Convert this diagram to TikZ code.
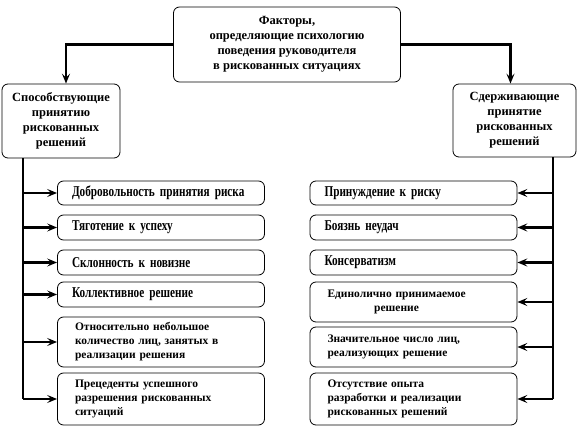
\documentclass[tikz,border=0pt]{standalone}
\usepackage{fontspec}
\setmainfont{Liberation Serif}
\newfontfamily\narrowfont{Liberation Serif}[FakeStretch=0.75,WordSpace=0.7]
\usetikzlibrary{arrows.meta}

\begin{document}
\begin{tikzpicture}[x=1pt,y=-1pt,
  box/.style={draw, rounded corners=6pt, line width=0.8pt, inner sep=0pt},
  head/.style={box, align=center, font=\bfseries\fontsize{12.5}{15}\selectfont},
  item/.style={box, align=left, text width=172pt, inner xsep=17.5pt,
    font=\bfseries\fontsize{11.5}{14}\selectfont},
  big/.style={text width=178pt, inner xsep=14.5pt,
    font=\narrowfont\bfseries\fontsize{15}{15}\selectfont},
  conn/.style={line width=2.6pt, -{Stealth[length=10pt,width=8pt,inset=4pt]}},
  trunk/.style={line width=2.6pt}]
\useasboundingbox (0,0) rectangle (579,427);
% Top and the two groups
\node[head, minimum width=227pt, minimum height=75pt] (top) at (287,44.5)
  {Факторы,\\определяющие психологию\\поведения руководителя\\в рискованных ситуациях};
\node[head, minimum width=118pt, minimum height=74pt] (lhead) at (61,121)
  {Способствующие\\принятию\\рискованных\\решений};
\node[head, minimum width=123pt, minimum height=73pt] (rhead) at (514.5,120.5)
  {Сдерживающие\\принятие\\рискованных\\решений};
\draw[conn] (top.west) -| ([xshift=5pt]lhead.north);
\draw[conn] (top.east) -| ([xshift=-4pt]rhead.north);
% Left column
\node[item, big, minimum height=24pt] (l1) at (161,193) {Добровольность принятия риска};
\node[item, big, minimum height=25pt] (l2) at (161,227.5) {Тяготение к успеху};
\node[item, big, minimum height=25pt] (l3) at (161,262.5) {Склонность к новизне};
\node[item, big, minimum height=25pt] (l4) at (161,294.5) {Коллективное решение};
\node[item, minimum height=50pt] (l5) at (161,342) {Относительно небольшое\\количество лиц, занятых в\\реализации решения};
\node[item, minimum height=52pt] (l6) at (161,399) {Прецеденты успешного\\разрешения рискованных\\ситуаций};
% Right column
\node[item, big, minimum height=24pt] (r1) at (413.5,193) {Принуждение к риску};
\node[item, big, minimum height=25pt] (r2) at (413.5,227.5) {Боязнь неудач};
\node[item, big, minimum height=25pt] (r3) at (413.5,262.5) {Консерватизм};
\node[item, minimum height=40pt] (r4) at (413.5,302)
  {\begin{tabular}{@{}c@{}}Единолично принимаемое\\решение\end{tabular}};
\node[item, minimum height=40pt] (r5) at (413.5,347) {Значительное число лиц,\\реализующих решение};
\node[item, minimum height=52pt] (r6) at (413.5,399) {Отсутствие опыта\\разработки и реализации\\рискованных решений};
% Trunks and arrows
\coordinate (ltrunk) at (23,0);
\coordinate (rtrunk) at (553,0);
\draw[trunk] (ltrunk |- lhead.south) -- (ltrunk |- l6.west);
\draw[trunk] (rtrunk |- rhead.south) -- (rtrunk |- r6.east);
\foreach \i in {1,...,6} {
  \draw[conn] (ltrunk |- l\i.west) -- (l\i.west);
  \draw[conn] (rtrunk |- r\i.east) -- (r\i.east);
}
\end{tikzpicture}
\end{document}
